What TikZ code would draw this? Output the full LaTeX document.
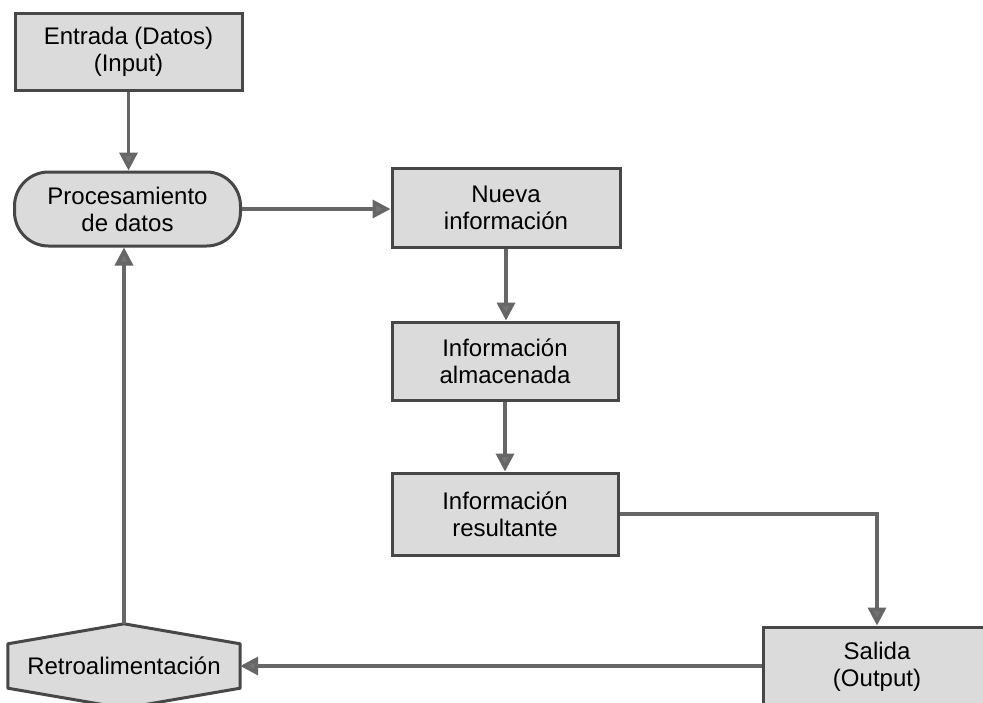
\documentclass[tikz,border=0pt]{standalone}
\usepackage{fontspec}
\setmainfont{Liberation Sans}
\usetikzlibrary{arrows.meta,calc}
\begin{document}
\begin{tikzpicture}[x=1pt,y=-1pt,
  box/.style={draw=black!72,line width=3pt,fill=black!14,inner sep=0pt,align=center,
    font=\fontsize{24}{27}\selectfont},
  proc/.style={box,rounded corners=34pt},
  conn/.style={draw=black!60,line width=3.6pt,-{Triangle[length=18pt,width=18pt,fill=black!55]}}
]
\useasboundingbox (0,0) rectangle (983,702);
\clip (0,0) rectangle (983,702);

\node[box,minimum width=227pt,minimum height=77pt] (entrada) at (128.5,51.5) {Entrada (Datos)\\(Input)};
\node[proc,minimum width=226pt,minimum height=74pt] (proc) at (127.5,209) {Procesamiento\\de datos};
\node[box,minimum width=228pt,minimum height=79pt] (nueva) at (506,207.5) {Nueva\\información};
\node[box,minimum width=226pt,minimum height=78pt] (alm) at (505,361) {Información\\almacenada};
\node[box,minimum width=226pt,minimum height=82pt] (res) at (505,514) {Información\\resultante};
\node[box,minimum width=228pt,minimum height=80pt] (salida) at (877,667) {Salida\\(Output)};

% Retroalimentacion hexagon
\node[inner sep=0pt,minimum width=232pt,minimum height=44pt] (retro) at (124,666) {};
\coordinate (retrotop) at ($(retro.north)+(0,-20)$);
\coordinate (retrobot) at ($(retro.south)+(0,20)$);
\draw[draw=black!72,fill=black!14,line width=3pt,line join=round] (retro.north west) -- (retrotop) -- (retro.north east)
  -- (retro.south east) -- (retrobot) -- (retro.south west) -- cycle;
\node[font=\fontsize{24}{27}\selectfont,inner sep=0pt] at (retro.center) {Retroalimentación};

\draw[conn] (entrada.south) -- (entrada.south |- proc.north);
\draw[conn] (proc.east) -- (proc.east -| nueva.west);
\draw[conn] (nueva.south) -- (nueva.south |- alm.north);
\draw[conn] (alm.south) -- (alm.south |- res.north);
\draw[conn] (res.east) -| (salida.north);
\draw[conn] (salida.west |- retro.east) -- (retro.east);
\draw[conn] (retrotop) -- (retrotop |- proc.south);
\end{tikzpicture}
\end{document}
